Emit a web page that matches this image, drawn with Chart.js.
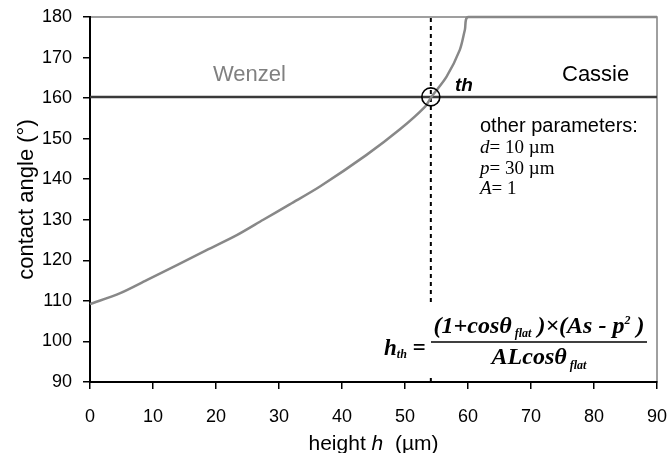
<!DOCTYPE html>
<html>
<head>
<meta charset="utf-8">
<script src="https://cdn.jsdelivr.net/npm/chart.js"></script>
<style>
  body { margin: 0; background: #fff; }
  #chart { display: block; }
</style>
</head>
<body>
<canvas id="chart" width="669" height="453"></canvas>
<script>
  /*** datos ***/
  const heights = [0, 4.8, 9, 13.8, 18.5, 23.3, 27.5, 31.7, 36.5, 43.9, 49.2, 53.2, 54.2, 56.6, 58.7, 59.5, 60.05, 90];
  const wenzelAngles = [109.2, 111.9, 115.1, 118.8, 122.5, 126.2, 130, 133.8, 138.2, 146.0, 152.3, 157.9, 160.3, 165.3, 171.9, 176.8, 180, 180];
  const cassieHeights = [0, 90];
  const cassieAngles = [160.3, 160.3];
  const thresholdH = 54.1;
  const thresholdAngle = 160.3;
  const xTicks = [0, 90, 10];   // min, max, step
  const yTicks = [90, 180, 10];
  const params = ['other parameters:', ['d', '= 10 µm'], ['p', '= 30 µm'], ['A', '= 1']];

  const toPoints = (xs, ys) => xs.map((x, i) => ({x: x, y: ys[i]}));

  // texto en trozos con distinta fuente
  function drawRuns(ctx, runs, x, y, align){
    let total = 0;
    runs.forEach(r => { ctx.font = r.font; r.w = ctx.measureText(r.t).width; total += r.w; });
    if(align === 'center') x -= total / 2;
    runs.forEach(r => { ctx.font = r.font; ctx.fillText(r.t, x, y + (r.dy || 0)); x += r.w; });
    return total;
  }

  const frame = {
    id: 'frame',
    beforeDraw(chart){
      const {ctx, chartArea: a} = chart;
      ctx.save();
      ctx.strokeStyle = '#808080';
      ctx.lineWidth = 1.5;
      ctx.strokeRect(a.left, a.top, a.right - a.left, a.bottom - a.top);
      ctx.restore();
    }
  };

  const notes = {
    id: 'notes',
    afterDatasetsDraw(chart){
      const ctx = chart.ctx;
      ctx.save();
      ctx.textBaseline = 'alphabetic';
      ctx.textAlign = 'left';

      ctx.fillStyle = '#808080';
      ctx.font = '22px "Liberation Sans"';
      ctx.fillText('Wenzel', 213, 81);
      ctx.fillStyle = '#000';
      ctx.fillText('Cassie', 562, 81);

      ctx.font = 'bold italic 19px "Liberation Sans"';
      ctx.fillText('th', 455, 91);

      ctx.font = '20px "Liberation Sans"';
      ctx.fillText(params[0], 480, 132);
      params.slice(1).forEach((p, i) => {
        drawRuns(ctx, [
          {t: p[0], font: 'italic 19px "Liberation Serif"'},
          {t: p[1], font: '19px "Liberation Serif"'}
        ], 480, 153 + i * 20.5, 'left');
      });

      // fórmula con fondo blanco
      ctx.fillStyle = '#fff';
      ctx.fillRect(378, 304, 276, 73);
      ctx.fillStyle = '#000';
      const big = 'bold italic 24px "Liberation Serif"';
      const small = 'bold italic 12px "Liberation Serif"';
      drawRuns(ctx, [
        {t: 'h', font: 'bold italic 23px "Liberation Serif"'},
        {t: 'th', font: small, dy: 3},
        {t: ' =', font: 'bold italic 23px "Liberation Serif"'}
      ], 384, 355, 'left');
      drawRuns(ctx, [
        {t: '(1+cosθ', font: big},
        {t: ' flat', font: small, dy: 4},
        {t: ' )×(As - p', font: big},
        {t: '2', font: small, dy: -9},
        {t: ' )', font: big}
      ], 539, 333, 'center');
      drawRuns(ctx, [
        {t: 'ALcosθ', font: big},
        {t: ' flat', font: small, dy: 5}
      ], 539, 364, 'center');
      ctx.strokeStyle = '#000';
      ctx.lineWidth = 1.5;
      ctx.beginPath();
      ctx.moveTo(431, 342);
      ctx.lineTo(647, 342);
      ctx.stroke();

      // título del eje x
      ctx.fillStyle = '#000';
      drawRuns(ctx, [
        {t: 'height ', font: '21px "Liberation Sans"'},
        {t: 'h', font: 'italic 21px "Liberation Sans"'},
        {t: '  (µm)', font: '21px "Liberation Sans"'}
      ], 373.5, 450, 'center');
      ctx.restore();
    }
  };

  const axisFont = {family: 'Liberation Sans', size: 18};

  new Chart(document.getElementById('chart'), {
    type: 'scatter',
    data: {
      datasets: [
        {
          label: 'th',
          data: [{x: thresholdH, y: thresholdAngle}],
          pointRadius: 9,
          pointBorderWidth: 1.6,
          borderColor: '#000',
          backgroundColor: 'rgba(0,0,0,0)',
          showLine: false
        },
        {
          label: 'Wenzel',
          data: toPoints(heights, wenzelAngles),
          showLine: true,
          borderColor: '#888888',
          borderWidth: 2.5,
          pointRadius: 0,
          tension: 0.3,
          clip: false
        },
        {
          label: 'h_th',
          data: [{x: thresholdH, y: yTicks[0]}, {x: thresholdH, y: yTicks[1]}],
          showLine: true,
          borderColor: '#000',
          borderWidth: 2,
          borderDash: [4, 4],
          pointRadius: 0
        },
        {
          label: 'Cassie',
          data: toPoints(cassieHeights, cassieAngles),
          showLine: true,
          borderColor: '#3a3a3a',
          borderWidth: 2.5,
          pointRadius: 0
        }
      ]
    },
    options: {
      responsive: false,
      animation: false,
      layout: {padding: {top: 17, right: 12, left: 0, bottom: 0}},
      plugins: {
        legend: {display: false},
        tooltip: {enabled: false}
      },
      scales: {
        x: {
          type: 'linear',
          min: xTicks[0],
          max: xTicks[1],
          afterFit: s => { s.height = 71; s.paddingLeft = 0; s.paddingRight = 0; },
          ticks: {stepSize: xTicks[2], color: '#000', font: axisFont, padding: 17, maxRotation: 0},
          grid: {drawOnChartArea: false, drawTicks: true, tickLength: 7, color: '#000', lineWidth: 1.5},
          border: {display: true, color: '#000', width: 2}
        },
        y: {
          type: 'linear',
          min: yTicks[0],
          max: yTicks[1],
          afterFit: s => { s.width = 90; s.paddingTop = 0; s.paddingBottom = 0; },
          ticks: {stepSize: yTicks[2], color: '#000', font: axisFont, padding: 11},
          grid: {drawOnChartArea: false, drawTicks: true, tickLength: 7, color: '#000', lineWidth: 1.5},
          border: {display: true, color: '#000', width: 2},
          title: {
            display: true,
            text: 'contact angle (°)',
            color: '#000',
            font: {family: 'Liberation Sans', size: 22},
            padding: {top: 14, bottom: 0}
          }
        }
      }
    },
    plugins: [frame, notes]
  });
</script>
</body>
</html>
